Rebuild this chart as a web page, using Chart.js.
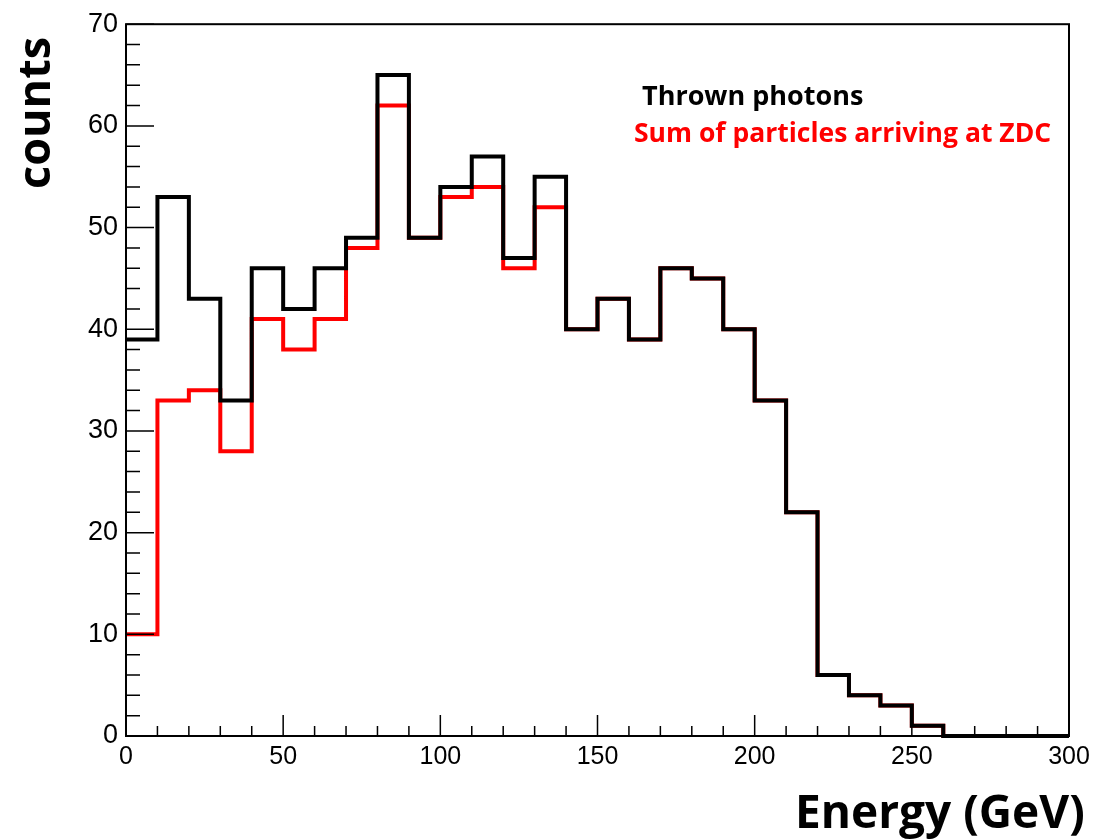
<!DOCTYPE html>
<html>
<head>
<meta charset="utf-8">
<script src="https://cdn.jsdelivr.net/npm/chart.js@4.4.1/dist/chart.umd.min.js"></script>
<style>
  body { margin: 0; background: #fff; }
  #wrap { position: relative; width: 1097px; height: 839px; }
  #chart { position: absolute; left: 0; top: 0; }
  .lbl { position: absolute; font-family: 'Open Sans', sans-serif; font-weight: bold; line-height: 1; white-space: nowrap; }
</style>
</head>
<body>
<div id="wrap">
  <canvas id="chart" width="1097" height="839"></canvas>
  <div class="lbl" style="left:642px; top:81px; font-size:27px; color:#000;">Thrown photons</div>
  <div class="lbl" style="left:634px; top:119px; font-size:26.5px; color:#ff0000;">Sum of particles arriving at ZDC</div>
  <div class="lbl" style="left:10px; top:189px; font-size:45px; color:#000; transform-origin:0 0; transform:rotate(-90deg);">counts</div>
  <div class="lbl" style="left:795px; top:787px; font-size:46px; color:#000;">Energy (GeV)</div>
</div>
<script>
// lower edge of each 10 GeV bin
const binLow = [0, 10, 20, 30, 40, 50, 60, 70, 80, 90, 100, 110, 120, 130, 140,
                150, 160, 170, 180, 190, 200, 210, 220, 230, 240, 250, 260, 270, 280, 290];
const xMax = 300;
const yMax = 70;

const thrown = [39, 53, 43, 33, 46, 42, 46, 49, 65, 49, 54, 57, 47, 55, 40,
                43, 39, 46, 45, 40, 33, 22, 6, 4, 3, 1, 0, 0, 0, 0];
const atZDC  = [10, 33, 34, 28, 41, 38, 41, 48, 62, 49, 53, 54, 46, 52, 40,
                43, 39, 46, 45, 40, 33, 22, 6, 4, 3, 1, 0, 0, 0, 0];

// histogram outline: one point per bin edge, last value repeated at the upper edge
function toSteps(vals) {
    const pts = binLow.map((x, i) => ({ x: x, y: vals[i] }));
    pts.push({ x: xMax, y: vals[vals.length - 1] });
    return pts;
}

// ROOT style frame with ticks on the inside
const rootAxes = {
    id: 'rootAxes',
    afterDraw(chart) {
        const { ctx, chartArea: a, scales: { x, y } } = chart;
        ctx.save();
        ctx.strokeStyle = '#000';
        ctx.lineWidth = 2;
        ctx.strokeRect(a.left, a.top, a.right - a.left, a.bottom - a.top);
        ctx.lineWidth = 1.5;
        ctx.beginPath();
        for (let v = 0; v <= xMax; v += 10) {
            const px = x.getPixelForValue(v);
            const len = v % 50 === 0 ? 21 : 10;
            ctx.moveTo(px, a.bottom);
            ctx.lineTo(px, a.bottom - len);
        }
        for (let v = 0; v <= yMax; v += 2) {
            const py = y.getPixelForValue(v);
            const len = v % 10 === 0 ? 28 : 14;
            ctx.moveTo(a.left, py);
            ctx.lineTo(a.left + len, py);
        }
        ctx.stroke();
        ctx.restore();
    }
};

new Chart(document.getElementById('chart').getContext('2d'), {
    type: 'line',
    data: {
        datasets: [
            {
                label: 'Thrown photons',
                data: toSteps(thrown),
                borderColor: '#000000',
                borderWidth: 4,
                stepped: 'before',
                pointRadius: 0,
                fill: false,
                clip: false,
                order: 0
            },
            {
                label: 'Sum of particles arriving at ZDC',
                data: toSteps(atZDC),
                borderColor: '#ff0000',
                borderWidth: 4,
                stepped: 'before',
                pointRadius: 0,
                fill: false,
                clip: false,
                order: 1
            }
        ]
    },
    plugins: [rootAxes],
    options: {
        responsive: false,
        animation: false,
        layout: { padding: { left: 0, top: 18, right: 28, bottom: 0 } },
        plugins: {
            legend: { display: false },
            tooltip: { enabled: false }
        },
        scales: {
            x: {
                type: 'linear',
                min: 0,
                max: xMax,
                grid: { display: false, drawTicks: false },
                border: { display: false },
                ticks: {
                    stepSize: 50,
                    padding: 6,
                    color: '#000',
                    font: { family: "'Liberation Sans', Arial, sans-serif", size: 25 },
                    maxRotation: 0
                },
                afterFit(s) { s.height = 103; }
            },
            y: {
                min: 0,
                max: yMax,
                grid: { display: false, drawTicks: false },
                border: { display: false },
                ticks: {
                    stepSize: 10,
                    padding: 8,
                    color: '#000',
                    font: { family: "'Liberation Sans', Arial, sans-serif", size: 27 }
                },
                afterFit(s) { s.width = 126; }
            }
        }
    }
});
</script>
</body>
</html>
